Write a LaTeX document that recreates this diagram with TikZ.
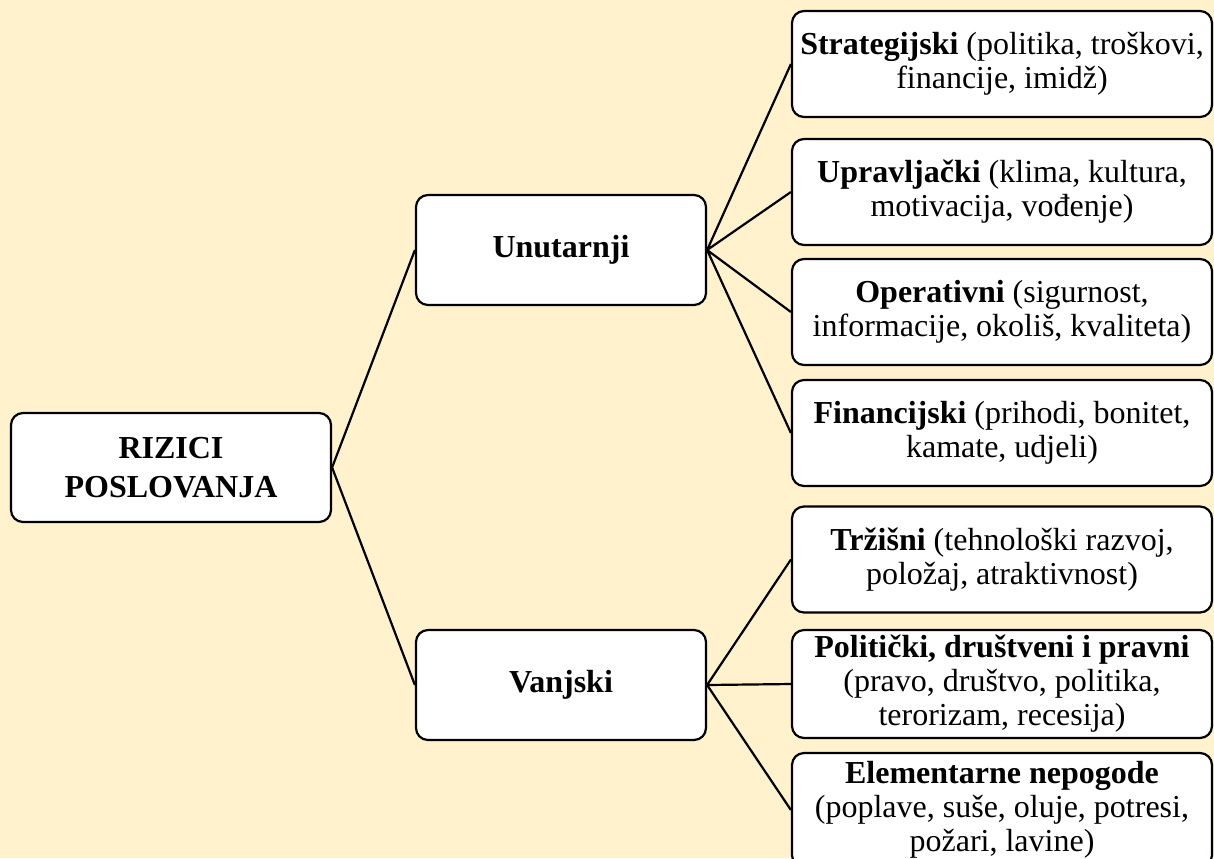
\documentclass[tikz,border=0pt]{standalone}
\usepackage{fontspec}
\setmainfont{Liberation Serif}
\usetikzlibrary{positioning}
\definecolor{bgcream}{HTML}{FFF2CC}

\begin{document}
\begin{tikzpicture}
		[x=0.5pt, y=-0.5pt,
		block/.style ={rectangle, draw=black, line width=1.1pt, fill=white, rounded corners=6pt, align=center, font=\fontsize{16}{17}\selectfont, inner sep=1pt},
		root/.style = {block, minimum width=160pt, minimum height=54.5pt, font=\fontsize{16}{19.5}\selectfont\bfseries},
		group/.style = {block, minimum width=145pt, minimum height=55pt, font=\fontsize{16}{18.5}\selectfont\bfseries},
		leaf/.style = {block, minimum width=210pt, minimum height=53pt},
		line/.style ={draw, line width=1.1pt},
		]

		\fill[bgcream] (0,0) rectangle (1214,858);
		\useasboundingbox (0,0) rectangle (1214,858);

		\draw (171,467.5) node[root] (R) {RIZICI\\POSLOVANJA};

		\draw (561,250) node[group] (U) {Unutarnji};
		\draw (561,685) node[group] (V) {Vanjski};

		\draw (1002,64) node[leaf] (S1) {\textbf{Strategijski} (politika, troškovi,\\financije, imidž)};
		\draw (1002,192) node[leaf] (S2) {\textbf{Upravljački} (klima, kultura,\\motivacija, vođenje)};
		\draw (1002,312) node[leaf] (S3) {\textbf{Operativni} (sigurnost,\\informacije, okoliš, kvaliteta)};
		\draw (1002,433) node[leaf] (S4) {\textbf{Financijski} (prihodi, bonitet,\\kamate, udjeli)};
		\draw (1002,559.5) node[leaf] (V1) {\textbf{Tržišni} (tehnološki razvoj,\\položaj, atraktivnost)};
		\draw (1002,684) node[leaf, minimum height=54pt] (V2) {\textbf{Politički, društveni i pravni}\\(pravo, društvo, politika,\\terorizam, recesija)};
		\draw (1002,810) node[leaf, minimum height=57pt] (V3) {\textbf{Elementarne nepogode}\\(poplave, suše, oluje, potresi,\\požari, lavine)};

		\path[line]
		(R.east) -- (U.west)
		(R.east) -- (V.west)
		(U.east) -- (S1.west)
		(U.east) -- (S2.west)
		(U.east) -- (S3.west)
		(U.east) -- (S4.west)
		(V.east) -- (V1.west)
		(V.east) -- (V2.west)
		(V.east) -- (V3.west);
	\end{tikzpicture}
\end{document}
